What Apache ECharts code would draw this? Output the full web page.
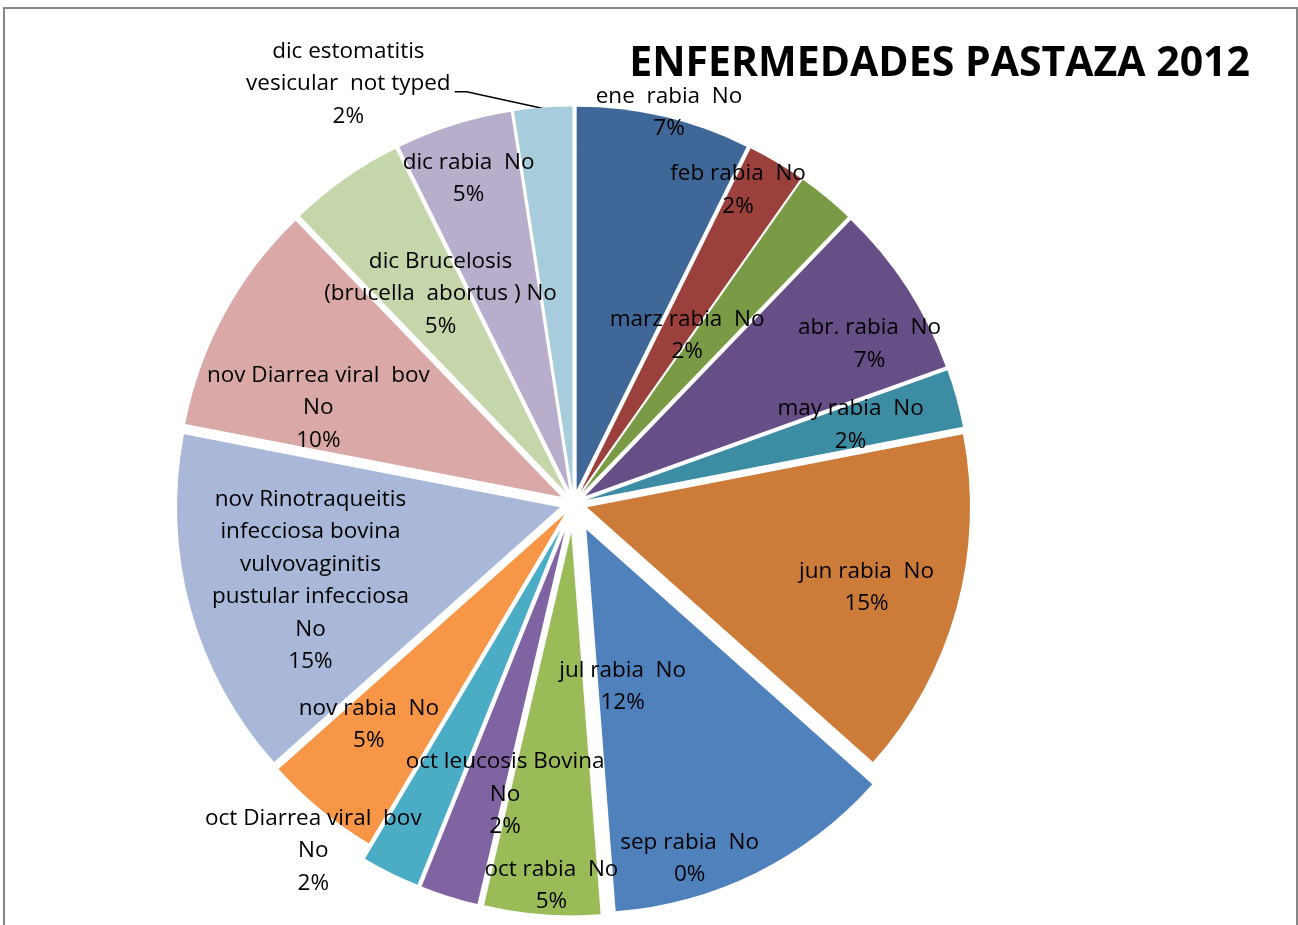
<!DOCTYPE html>
<html>
<head>
<meta charset="utf-8">
<title>Enfermedades Pastaza 2012</title>
<script src="https://cdn.jsdelivr.net/npm/echarts@6/dist/echarts.min.js"></script>
<style>
  html, body { margin: 0; padding: 0; background: #fff; overflow: hidden; }
  #main { width: 1298px; height: 925px; }
  #marco { position: absolute; left: 3px; top: 7px; width: 1295px; height: 1000px; box-sizing: border-box; border: 2px solid #868686; pointer-events: none; }
</style>
</head>
<body>
<div id="main"></div>
<div id="marco"></div>
<script>
// categorias (mes + enfermedad), con los saltos de linea de la etiqueta
const categorias = [
  'ene  rabia  No',
  'feb rabia  No',
  'marz rabia  No',
  'abr. rabia  No',
  'may rabia  No',
  'jun rabia  No',
  'jul rabia  No',
  'sep rabia  No',
  'oct rabia  No',
  'oct leucosis Bovina\nNo',
  'oct Diarrea viral  bov\nNo',
  'nov rabia  No',
  'nov Rinotraqueitis\ninfecciosa bovina\nvulvovaginitis\npustular infecciosa\nNo',
  'nov Diarrea viral  bov\nNo',
  'dic Brucelosis\n(brucella  abortus ) No',
  'dic rabia  No',
  'dic estomatitis\nvesicular  not typed'
]
// casos
const casos = [3, 1, 1, 3, 1, 6, 5, 0, 2, 1, 1, 2, 6, 4, 2, 2, 1]

// colores tipo Excel 2007
const colores = [
  '#3F6898', '#9B403D', '#7B9A45', '#664E86', '#3C8DA3', '#CC7B38',
  '#4F81BD', '#C0504D', '#9BBB59', '#8064A2', '#4BACC6', '#F79646',
  '#A9B8D8', '#D9A8A7', '#C5D6AB', '#B8AECB', '#A7CDDC'
]
// porciones mas separadas del centro
const lejos = [6, 7, 8, 9, 10]
// la etiqueta que va afuera con linea
const afuera = 16
// ajuste de etiquetas [dx, dy]
const ajuste = [
  [48, -188], [58, -134], [-19, -7], [121, -46], [76, -23], [92, 29],
  [-50, -17], [99, 132], [-5, 159], [-1, 78], [-161, 147], [-72, 60],
  [-62, 22], [-72, 4], [-13, -39], [-42, -126], [-177, -14]
]

const chart = echarts.init(document.getElementById('main'))

function porciones(separada) {
  return categorias.map((nombre, i) => {
    const visible = lejos.includes(i) === separada
    return {
      name: nombre,
      value: casos[i],
      selected: true,
      itemStyle: { color: visible ? colores[i] : 'rgba(0,0,0,0)' },
      label: { show: visible, position: i === afuera ? 'outside' : 'inside' },
      labelLine: { show: visible && i === afuera }
    }
  })
}

function serie(separada, offset) {
  return {
    type: 'pie',
    center: [573.5, 503.5],
    radius: [0, 383],
    startAngle: 90,
    clockwise: true,
    selectedMode: 'multiple',
    selectedOffset: offset,
    avoidLabelOverlap: false,
    silent: true,
    label: {
      position: 'outside',
      formatter: p => p.name + '\n' + Math.round(p.percent) + '%',
      color: '#000',
      fontFamily: 'Open Sans',
      fontSize: 22.5,
      lineHeight: 32.5,
      textBorderWidth: 0
    },
    labelLine: { length: 10, length2: 12, lineStyle: { color: '#000', width: 1.5 } },
    labelLayout: p => {
      const s = ajuste[p.dataIndex]
      if (p.dataIndex === afuera) {
        // etiqueta de afuera: centrada, con linea hasta la porcion
        const r = p.labelRect
        const h = p.rect
        const derecha = r.x + r.width * 1.5 + s[0] + 4
        const medio = r.y + r.height / 2 + s[1] + 8
        return {
          dx: s[0], dy: s[1], align: 'center',
          labelLinePoints: [[derecha, medio], [derecha + 12, medio], [h.x + h.width * 0.5, h.y + 2]]
        }
      }
      return { dx: s[0], dy: s[1] }
    },
    data: porciones(separada)
  }
}

const option = {
  animation: false,
  backgroundColor: '#fff',
  title: {
    text: 'ENFERMEDADES PASTAZA 2012',
    right: 48,
    top: 41,
    padding: 0,
    textStyle: { fontFamily: 'Open Sans', fontSize: 41, fontWeight: 'bold', color: '#000', lineHeight: 46 }
  },
  series: [serie(true, 29), serie(false, 14)]
}
chart.setOption(option)
</script>
</body>
</html>
